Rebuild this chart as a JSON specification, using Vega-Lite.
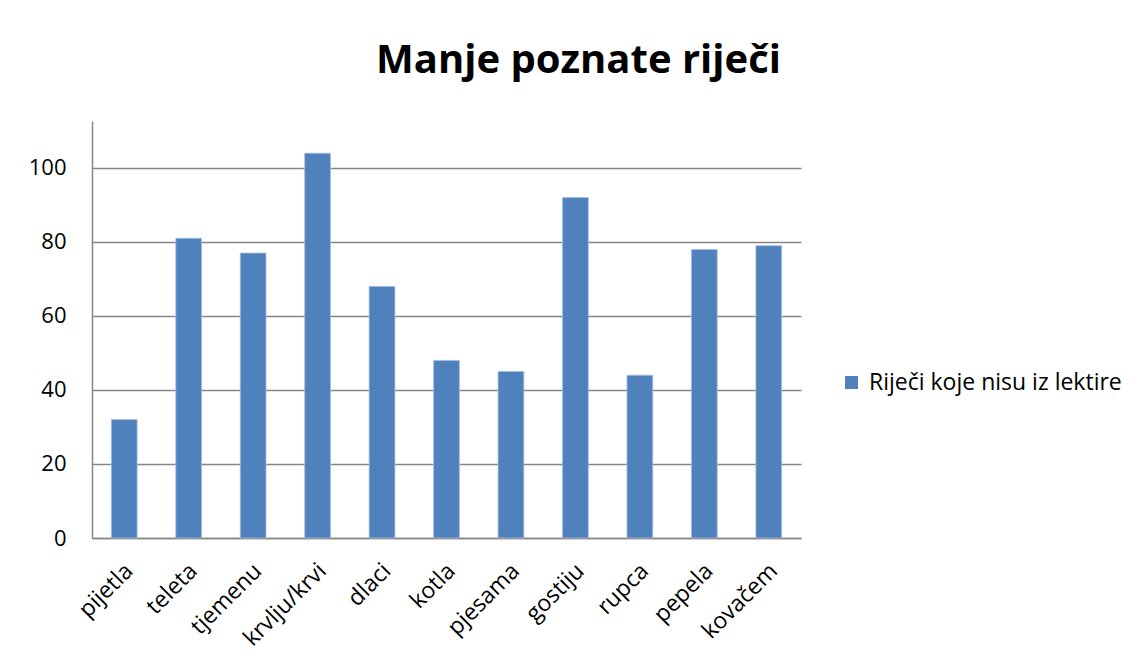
{
  "$schema": "https://vega.github.io/schema/vega-lite/v6.json",
  "autosize": {"type": "none"},
  "width": 709,
  "height": 417,
  "padding": {"left": 92, "top": 121, "right": 339, "bottom": 129},
  "background": "white",
  "title": {
    "text": "Manje poznate riječi",
    "font": "Open Sans",
    "fontSize": 40,
    "fontWeight": "bold",
    "color": "#000000",
    "anchor": "middle",
    "baseline": "alphabetic",
    "offset": 8,
    "dx": 132
  },
  "data": {
    "values": [
      {"rijec": "pijetla", "broj": 32, "serija": "Riječi koje nisu iz lektire"},
      {"rijec": "teleta", "broj": 81, "serija": "Riječi koje nisu iz lektire"},
      {"rijec": "tjemenu", "broj": 77, "serija": "Riječi koje nisu iz lektire"},
      {"rijec": "krvlju/krvi", "broj": 104, "serija": "Riječi koje nisu iz lektire"},
      {"rijec": "dlaci", "broj": 68, "serija": "Riječi koje nisu iz lektire"},
      {"rijec": "kotla", "broj": 48, "serija": "Riječi koje nisu iz lektire"},
      {"rijec": "pjesama", "broj": 45, "serija": "Riječi koje nisu iz lektire"},
      {"rijec": "gostiju", "broj": 92, "serija": "Riječi koje nisu iz lektire"},
      {"rijec": "rupca", "broj": 44, "serija": "Riječi koje nisu iz lektire"},
      {"rijec": "pepela", "broj": 78, "serija": "Riječi koje nisu iz lektire"},
      {"rijec": "kovačem", "broj": 79, "serija": "Riječi koje nisu iz lektire"}
    ]
  },
  "mark": {"type": "bar", "stroke": "#A7BEDD", "strokeWidth": 0.8},
  "encoding": {
    "x": {
      "field": "rijec",
      "type": "nominal",
      "sort": null,
      "scale": {"paddingInner": 0.6, "paddingOuter": 0.3},
      "axis": {
        "title": null,
        "labelAngle": -45,
        "labelAlign": "right",
        "labelBaseline": "middle",
        "labelFont": "Open Sans",
        "labelFontSize": 23,
        "labelColor": "#000000",
        "labelPadding": 29,
        "labelOffset": 5,
        "labelLimit": 300,
        "ticks": false,
        "domainColor": "#868686",
        "domainWidth": 1.5,
        "grid": false
      }
    },
    "y": {
      "field": "broj",
      "type": "quantitative",
      "scale": {"domain": [0, 112.7], "nice": false},
      "axis": {
        "title": null,
        "values": [0, 20, 40, 60, 80, 100],
        "labelFont": "Open Sans",
        "labelFontSize": 22,
        "labelColor": "#000000",
        "labelPadding": 26,
        "ticks": false,
        "domainColor": "#868686",
        "domainWidth": 1.5,
        "grid": true,
        "gridColor": "#868686",
        "gridWidth": 1.5
      }
    },
    "color": {
      "field": "serija",
      "type": "nominal",
      "scale": {"range": ["#4F81BD"]},
      "legend": {
        "title": null,
        "orient": "none",
        "legendX": 748,
        "legendY": 250,
        "symbolType": "square",
        "symbolSize": 169,
        "symbolStrokeWidth": 0,
        "labelFont": "Open Sans",
        "labelFontSize": 23,
        "labelColor": "#000000",
        "labelLimit": 400,
        "labelOffset": 6
      }
    }
  },
  "config": {
    "view": {"stroke": null}
  }
}
